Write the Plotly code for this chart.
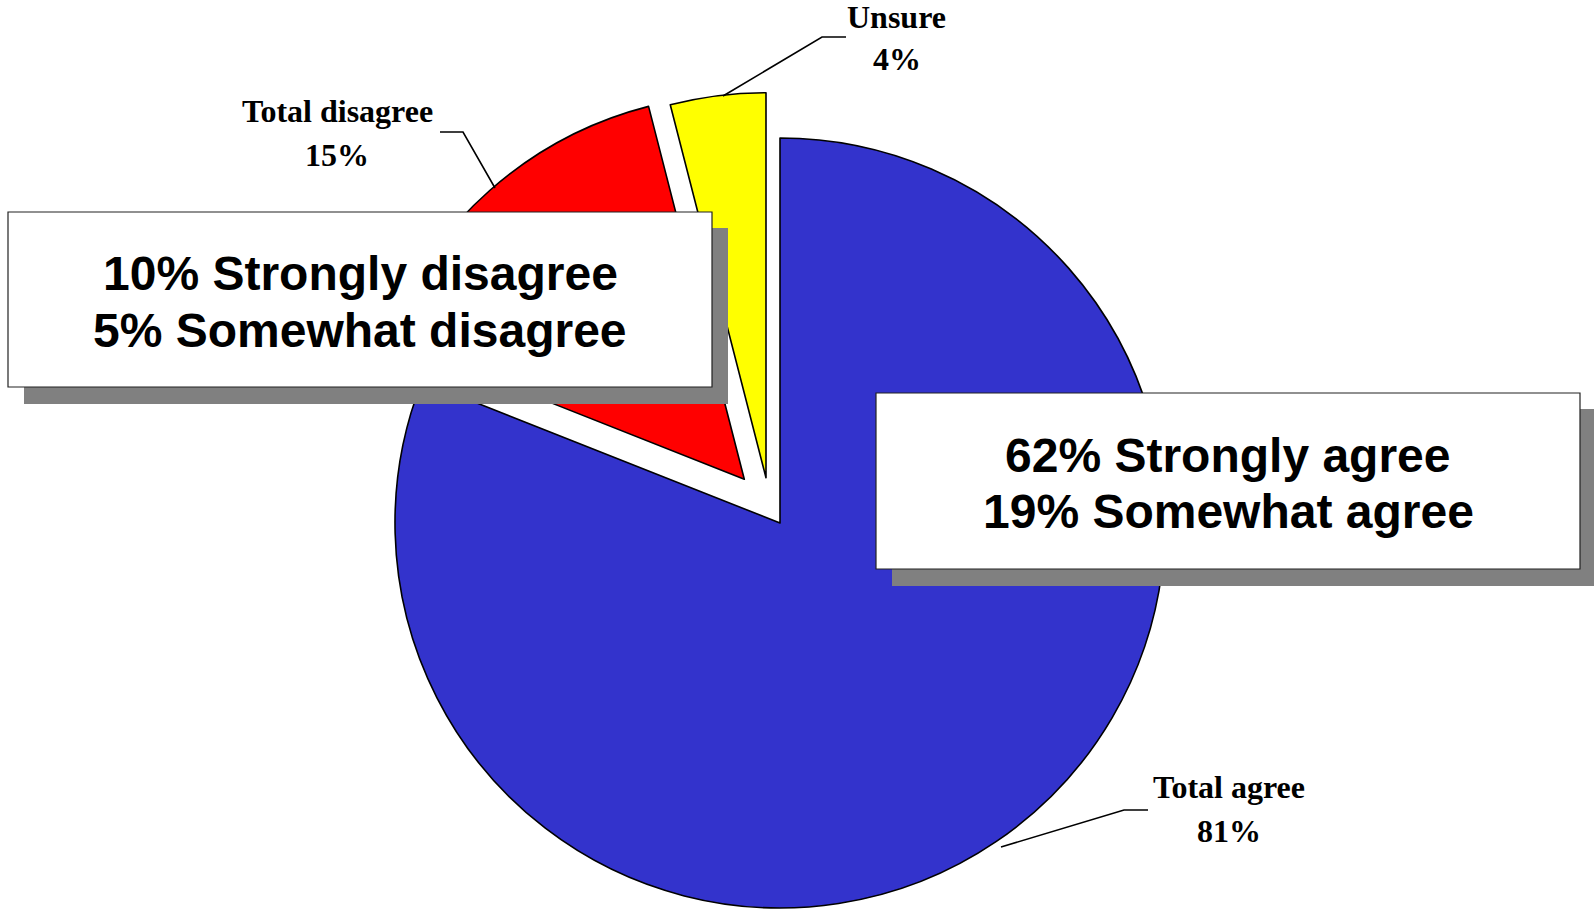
import plotly.graph_objects as go

W, H = 1594, 909

# ---- data ----
labels = ["Total agree", "Total disagree", "Unsure"]
values = [81, 15, 4]
pct_text = ["81%", "15%", "4%"]
colors = ["#3333CC", "#FF0000", "#FFFF00"]
agree_detail = ["62% Strongly agree", "19% Somewhat agree"]
disagree_detail = ["10% Strongly disagree", "5% Somewhat disagree"]

# ---- layout helpers (pixel -> paper) ----
def px(x):
    return x / W

def py(y):
    return 1 - y / H

R = 385
# slice centres (exploded slices are offset)
centers = [(780, 523), (744.3, 479.3), (766, 477.7)]

fig = go.Figure()
for i, (cx, cy) in enumerate(centers):
    cols = ["rgba(0,0,0,0)"] * len(values)
    lcols = ["rgba(0,0,0,0)"] * len(values)
    cols[i] = colors[i]
    lcols[i] = "black"
    fig.add_trace(go.Pie(
        labels=labels, values=values, sort=False, direction="clockwise", rotation=0,
        marker=dict(colors=cols, line=dict(color=lcols, width=1.6)),
        textinfo="none", hoverinfo="skip", showlegend=False,
        domain=dict(x=[px(cx - R), px(cx + R)], y=[py(cy + R), py(cy - R)]),
    ))

shapes = []

def rect(x0, y0, x1, y1, fill, line=None):
    shapes.append(dict(type="rect", xref="paper", yref="paper", layer="above",
                       x0=px(x0), x1=px(x1), y0=py(y1), y1=py(y0),
                       fillcolor=fill,
                       line=dict(color=line or "rgba(0,0,0,0)", width=1.2 if line else 0)))

def polyline(pts):
    d = "M " + " L ".join(f"{px(x)},{py(y)}" for x, y in pts)
    shapes.append(dict(type="path", xref="paper", yref="paper", layer="above", path=d,
                       line=dict(color="black", width=1.6)))

# boxes with shadows
rect(24, 228, 728, 404, "#808080")
rect(8, 212, 712, 387, "white", "#222222")
rect(892, 409, 1594, 586, "#808080")
rect(876, 393, 1580, 569, "white", "#222222")

# leader lines
polyline([(1001, 847), (1124, 810), (1148, 810)])
polyline([(495, 188), (463, 132), (440, 132)])
polyline([(723, 96), (822, 37), (846, 37)])

annotations = []

def txt(x, y, s, font, size):
    annotations.append(dict(x=px(x), y=py(y), xref="paper", yref="paper", text=s,
                            showarrow=False, xanchor="center", yanchor="middle",
                            font=dict(family=font, size=size, color="black")))

serif = "Liberation Serif, Times New Roman, serif"
sans = "Liberation Sans, Arial, sans-serif"
label_pos = [(1229, 787, 831), (337, 111, 155), (897, 17, 59)]
for (x, y1, y2), lab, p in zip(label_pos, labels, pct_text):
    txt(x, y1, f"<b>{lab}</b>", serif, 32)
    txt(x, y2, f"<b>{p}</b>", serif, 32)

txt(360, 274, f"<b>{disagree_detail[0]}</b>", sans, 48)
txt(360, 331, f"<b>{disagree_detail[1]}</b>", sans, 48)
txt(1228, 455, f"<b>{agree_detail[0]}</b>", sans, 48)
txt(1228, 511, f"<b>{agree_detail[1]}</b>", sans, 48)

fig.update_layout(width=W, height=H, margin=dict(l=0, r=0, t=0, b=0),
                  paper_bgcolor="white", plot_bgcolor="white",
                  shapes=shapes, annotations=annotations)

fig.write_html("out.html", config={"displayModeBar": False},
               post_script="document.body.style.margin='0';document.body.style.overflow='hidden';")
